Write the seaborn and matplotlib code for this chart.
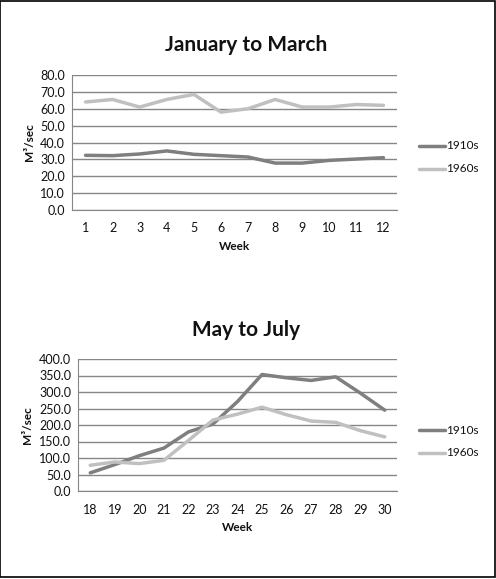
import numpy as np
import pandas as pd
import matplotlib
matplotlib.use('Agg')
import matplotlib.pyplot as plt
import matplotlib.patches as patches
from matplotlib.ticker import FormatStrFormatter, MultipleLocator
import seaborn as sns

# Datos
semanas_ene_mar = list(range(1, 13))
ene_mar_1910 = [32.4, 32.2, 33.2, 35.0, 33.0, 32.2, 31.4, 27.8, 27.8, 29.4, 30.2, 31.0]
ene_mar_1960 = [64.0, 65.5, 61.0, 65.5, 68.5, 58.0, 60.0, 65.5, 61.0, 61.0, 62.5, 62.0]

semanas_may_jul = list(range(18, 31))
may_jul_1910 = [55, 80, 107, 130, 179, 203, 271, 353, 343, 335, 346, 297, 245]
may_jul_1960 = [78, 88, 83, 93, 153, 215, 233, 254, 231, 212, 208, 183, 164]

series = ['1910s', '1960s']
colores = {'1910s': '#7f7f7f', '1960s': '#c0c0c0'}

sns.set_style('white')
plt.rcParams['font.family'] = ['Lato', 'DejaVu Sans']
plt.rcParams['text.color'] = '#111111'
plt.rcParams['axes.labelcolor'] = '#111111'

fig = plt.figure(figsize=(4.96, 5.79), dpi=100)
fig.patches.append(patches.Rectangle((0.001, 0.003), 0.996, 0.996, transform=fig.transFigure,
                                     fill=False, edgecolor='black', linewidth=1.2))


def dibujar(rect, semanas, v1910, v1960, titulo, ymax, paso, titulo_y, leg_y):
    df = pd.DataFrame({
        'Week': semanas * 2,
        'valor': v1910 + v1960,
        'serie': ['1910s'] * len(semanas) + ['1960s'] * len(semanas),
    })
    ax = fig.add_axes(rect)
    sns.lineplot(data=df, x='Week', y='valor', hue='serie', palette=colores,
                 linewidth=2.5, ax=ax, legend=False)
    ax.set_xlim(semanas[0] - 0.5, semanas[-1] + 0.5)
    ax.set_ylim(0, ymax)
    ax.set_xticks(semanas)
    ax.yaxis.set_major_locator(MultipleLocator(paso))
    ax.yaxis.set_major_formatter(FormatStrFormatter('%.1f'))
    ax.grid(axis='y', color='#868686', linewidth=1.0)
    ax.set_axisbelow(True)
    for s in ['top', 'right']:
        ax.spines[s].set_visible(False)
    ax.spines['left'].set_color('#868686')
    ax.spines['bottom'].set_color('#868686')
    ax.tick_params(axis='x', length=0, labelsize=9, pad=9, labelcolor='#111111')
    ax.tick_params(axis='y', length=3, color='#868686', labelsize=9, pad=2, labelcolor='#111111')
    ax.set_xlabel('Week', fontsize=8.5, fontweight='bold', labelpad=5)
    ax.set_ylabel('M³/sec', fontsize=8.5, fontweight='bold', labelpad=4)
    fig.text(0.497, titulo_y, titulo, ha='center', va='center', fontsize=15, fontweight='bold')
    # leyenda
    for i, s in enumerate(series):
        y = leg_y - i * 0.039
        fig.add_artist(plt.Line2D([419 / 496, 445 / 496], [y, y], color=colores[s],
                                  linewidth=2.5, transform=fig.transFigure))
        fig.text(446 / 496, y, s, ha='left', va='center', fontsize=8.5)
    return ax


dibujar([72 / 496, 1 - 210 / 579, 325 / 496, 135 / 579], semanas_ene_mar,
        ene_mar_1910, ene_mar_1960, 'January to March', 80, 10, 1 - 45 / 579, 1 - 146 / 579)
dibujar([78 / 496, 1 - 491 / 579, 319 / 496, 132 / 579], semanas_may_jul,
        may_jul_1910, may_jul_1960, 'May to July', 400, 50, 1 - 330 / 579, 1 - 430 / 579)

fig.savefig('out.png', dpi=100)
